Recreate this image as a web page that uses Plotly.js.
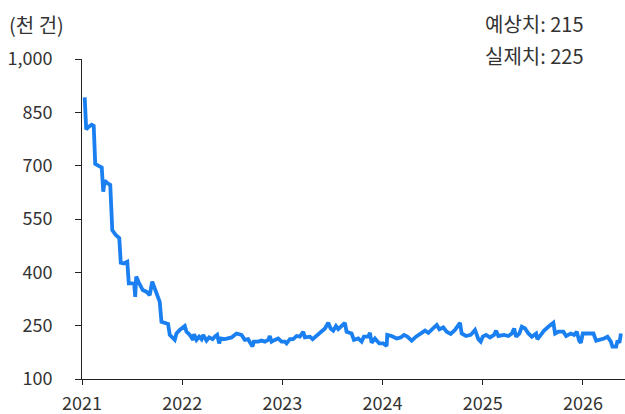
<!DOCTYPE html>
<html>
<head>
<meta charset="utf-8">
<script src="https://cdn.plot.ly/plotly-3.0.1.min.js"></script>
<style>
  html, body { margin: 0; padding: 0; background: #fff; }
  #chart { width: 625px; height: 414px; }
</style>
</head>
<body>
<div id="chart"></div>
<script>
// time in decimal years
const time = [
  2021.027, 2021.042, 2021.062, 2021.097, 2021.117, 2021.132, 2021.162, 2021.197, 2021.212, 2021.227,
  2021.257, 2021.282, 2021.294, 2021.302, 2021.337, 2021.372, 2021.387, 2021.417, 2021.452, 2021.467,
  2021.497, 2021.521, 2021.531, 2021.541, 2021.566, 2021.606, 2021.646, 2021.676, 2021.701, 2021.736,
  2021.776, 2021.793, 2021.859, 2021.876, 2021.926, 2021.943, 2021.976, 2022.026, 2022.043, 2022.076,
  2022.109, 2022.119, 2022.143, 2022.169, 2022.193, 2022.209, 2022.243, 2022.269, 2022.303, 2022.326,
  2022.349, 2022.369, 2022.383, 2022.426, 2022.459, 2022.493, 2022.542, 2022.592, 2022.625, 2022.658,
  2022.702, 2022.715, 2022.758, 2022.792, 2022.825, 2022.858, 2022.875, 2022.892, 2022.925, 2022.958,
  2022.992, 2023.025, 2023.042, 2023.075, 2023.108, 2023.142, 2023.175, 2023.208, 2023.225, 2023.275,
  2023.302, 2023.342, 2023.392, 2023.425, 2023.458, 2023.482, 2023.508, 2023.535, 2023.558, 2023.591,
  2023.624, 2023.641, 2023.691, 2023.714, 2023.757, 2023.791, 2023.814, 2023.857, 2023.874, 2023.891,
  2023.924, 2023.967, 2024.007, 2024.041, 2024.047, 2024.091, 2024.141, 2024.181, 2024.214, 2024.247,
  2024.291, 2024.334, 2024.374, 2024.424, 2024.457, 2024.501, 2024.541, 2024.567, 2024.606, 2024.640,
  2024.680, 2024.723, 2024.773, 2024.790, 2024.833, 2024.880, 2024.923, 2024.956, 2024.980, 2025.000,
  2025.033, 2025.073, 2025.113, 2025.133, 2025.156, 2025.213, 2025.256, 2025.290, 2025.313, 2025.333,
  2025.366, 2025.390, 2025.423, 2025.456, 2025.490, 2025.533, 2025.545, 2025.580, 2025.612, 2025.655,
  2025.705, 2025.722, 2025.755, 2025.805, 2025.832, 2025.879, 2025.912, 2025.939, 2025.962, 2025.979,
  2025.999, 2026.055, 2026.105, 2026.132, 2026.172, 2026.212, 2026.245, 2026.279, 2026.295, 2026.332,
  2026.345, 2026.365, 2026.379
];
// weekly claims, thousands
const claims = [
  892, 802, 808, 815, 812, 705, 700, 695, 627, 658,
  650, 646, 571, 519, 505, 496, 427, 425, 430, 369,
  369, 368, 331, 388, 372, 350, 345, 336, 374, 350,
  317, 261, 255, 224, 210, 228, 238, 249, 233, 224,
  210, 226, 210, 219, 212, 224, 208, 217, 212, 219,
  224, 200, 214, 212, 214, 217, 228, 224, 210, 212,
  191, 205, 205, 208, 205, 210, 221, 205, 210, 214,
  205, 205, 200, 212, 212, 221, 219, 233, 217, 219,
  212, 221, 233, 242, 258, 242, 236, 249, 240, 249,
  258, 233, 228, 210, 214, 205, 219, 219, 230, 202,
  214, 200, 200, 193, 224, 221, 214, 217, 224, 219,
  208, 219, 228, 236, 230, 242, 252, 240, 245, 233,
  227, 238, 258, 228, 221, 224, 238, 212, 205, 219,
  224, 217, 224, 236, 221, 224, 221, 228, 242, 219,
  228, 247, 242, 228, 219, 228, 212, 224, 236, 247,
  258, 228, 233, 233, 221, 228, 224, 233, 208, 202,
  228, 228, 228, 208, 210, 214, 219, 205, 191, 191,
  208, 202, 228
];
const yearTicks = [2021, 2022, 2023, 2024, 2025, 2026];
const yearLabels = ["2021", "2022", "2023", "2024", "2025", "2026"];
const valueTicks = [100, 250, 400, 550, 700, 850, 1000];
const unitLabel = "(천 건)";
const forecastLabel = "예상치: 215";
const actualLabel = "실제치: 225";

const FONT = '"Noto Sans CJK KR", "Noto Sans", sans-serif';
const TXT = '#333333';

const trace = {
  x: time,
  y: claims,
  type: 'scatter',
  mode: 'lines',
  line: { color: '#1a7ff0', width: 3.8, shape: 'linear' },
  hoverinfo: 'skip'
};

const layout = {
  width: 625,
  height: 414,
  margin: { l: 82, r: 0, t: 59, b: 35, pad: 0 },
  paper_bgcolor: '#ffffff',
  plot_bgcolor: '#ffffff',
  showlegend: false,
  font: { family: FONT, size: 18, color: TXT },
  xaxis: {
    range: [2021, 2026.42],
    tickvals: yearTicks,
    ticktext: yearLabels,
    ticks: 'outside',
    ticklen: 5,
    tickwidth: 1,
    tickcolor: '#222',
    showline: true,
    linecolor: '#222',
    linewidth: 1,
    showgrid: false,
    zeroline: false,
    ticklabelstandoff: 3,
    tickfont: { family: FONT, size: 18, color: TXT }
  },
  yaxis: {
    range: [100, 1000],
    tickvals: valueTicks,
    tickformat: ',',
    ticks: 'outside',
    ticklen: 6,
    tickwidth: 1,
    tickcolor: '#222',
    showline: true,
    linecolor: '#222',
    linewidth: 1,
    showgrid: false,
    zeroline: false,
    ticklabelstandoff: 19,
    tickfont: { family: FONT, size: 18, color: TXT }
  },
  annotations: [
    { text: unitLabel, xref: 'paper', yref: 'paper', x: -0.1387, y: 1.109,
      xanchor: 'left', yanchor: 'middle', showarrow: false,
      font: { family: FONT, size: 20, color: TXT } },
    { text: forecastLabel, xref: 'paper', yref: 'paper', x: 0.928, y: 1.111,
      xanchor: 'right', yanchor: 'middle', showarrow: false,
      font: { family: FONT, size: 20, color: TXT } },
    { text: actualLabel, xref: 'paper', yref: 'paper', x: 0.928, y: 1.011,
      xanchor: 'right', yanchor: 'middle', showarrow: false,
      font: { family: FONT, size: 20, color: TXT } }
  ]
};

Plotly.newPlot('chart', [trace], layout, { displayModeBar: false, staticPlot: true });
</script>
</body>
</html>
